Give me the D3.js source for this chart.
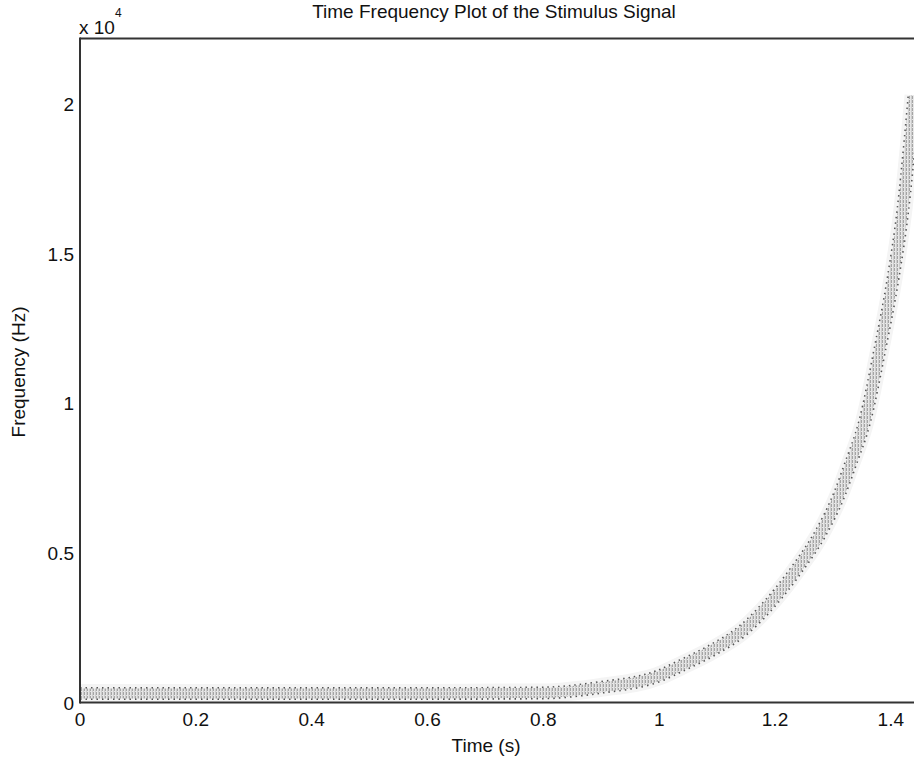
<!DOCTYPE html>
<html><head><meta charset="utf-8">
<script src="https://cdn.jsdelivr.net/npm/d3@7"></script>
<style>body{margin:0;background:#fff}svg{display:block}text{font-family:Arial,"Liberation Sans",sans-serif;fill:#111}</style>
</head><body><div id="chart"></div>
<script>
// Ridge of the chirp: time (s) and frequency (Hz)
const ridgeTime = [0, 0.2, 0.4, 0.6, 0.8, 0.897, 1.001, 1.04, 1.087, 1.144, 1.208, 1.243, 1.277, 1.312, 1.329, 1.355, 1.381, 1.404, 1.421, 1.433, 1.44];
const ridgeFreq = [300, 300, 300, 300, 320, 500, 900, 1250, 1700, 2400, 3700, 4600, 5600, 7000, 7900, 9400, 11800, 14200, 16500, 18800, 20300];
const xTicks = [0, 0.2, 0.4, 0.6, 0.8, 1, 1.2, 1.4];
const yTicks = [0, 5000, 10000, 15000, 20000];
const yTickLabels = ["0", "0.5", "1", "1.5", "2"];

const W = 914, H = 759;
const svg = d3.select("#chart").append("svg").attr("width", W).attr("height", H);
const m = {l: 80, t: 38.5, b: 702.5};
const x = d3.scaleLinear().domain([0, 1.44]).range([m.l, 914]);
const y = d3.scaleLinear().domain([0, 22200]).range([m.b, m.t]);

const defs = svg.append("defs");
const pat = defs.append("pattern").attr("id", "stripes").attr("patternUnits", "userSpaceOnUse")
  .attr("width", 3).attr("height", 4);
pat.append("rect").attr("width", 3).attr("height", 4).attr("fill", "#e6e6e6");
pat.append("rect").attr("width", 1).attr("height", 3).attr("fill", "#a4a4a4");
pat.append("rect").attr("x", 2).attr("width", 1).attr("height", 4).attr("fill", "#cdcdcd");
defs.append("clipPath").attr("id", "plotclip").append("rect")
  .attr("x", m.l + 1).attr("y", m.t + 1).attr("width", W - m.l).attr("height", m.b - m.t - 2);

const pts = ridgeTime.map((t, i) => [t, ridgeFreq[i]]);
const line = d3.line().x(d => x(d[0])).y(d => y(d[1])).curve(d3.curveMonotoneX);
const g = svg.append("g").attr("clip-path", "url(#plotclip)");
g.append("path").attr("d", line(pts)).attr("fill", "none").attr("stroke", "#f4f4f4").attr("stroke-width", 19);
g.append("path").attr("d", line(pts)).attr("fill", "none").attr("stroke", "#555").attr("stroke-width", 13)
  .attr("stroke-dasharray", "1.5 4");
g.append("path").attr("d", line(pts)).attr("fill", "none").attr("stroke", "url(#stripes)").attr("stroke-width", 10);

// frame
svg.append("line").attr("x1", m.l).attr("x2", W).attr("y1", m.t).attr("y2", m.t).attr("stroke", "#333").attr("stroke-width", 2);
svg.append("line").attr("x1", m.l).attr("x2", W).attr("y1", m.b).attr("y2", m.b).attr("stroke", "#333").attr("stroke-width", 2);
svg.append("line").attr("x1", m.l).attr("x2", m.l).attr("y1", m.t - 1).attr("y2", m.b + 1).attr("stroke", "#333").attr("stroke-width", 2);

// tick labels
svg.append("g").selectAll("text").data(xTicks).join("text")
  .attr("x", d => x(d)).attr("y", 726).attr("text-anchor", "middle").attr("font-size", 19)
  .text(d => d3.format("")(d));
svg.append("g").selectAll("text").data(yTicks).join("text")
  .attr("x", 74).attr("y", d => y(d) + 7).attr("text-anchor", "end").attr("font-size", 19)
  .text((d, i) => yTickLabels[i]);

svg.append("text").attr("x", 79).attr("y", 34).attr("font-size", 19).text("x 10");
svg.append("text").attr("x", 115).attr("y", 17).attr("font-size", 12).text("4");

svg.append("text").attr("x", 494).attr("y", 18).attr("text-anchor", "middle").attr("font-size", 19)
  .text("Time Frequency Plot of the Stimulus Signal");
svg.append("text").attr("x", 486).attr("y", 752).attr("text-anchor", "middle").attr("font-size", 19).text("Time (s)");
svg.append("text").attr("transform", "translate(25,372) rotate(-90)").attr("text-anchor", "middle")
  .attr("font-size", 19).text("Frequency (Hz)");
</script></body></html>
